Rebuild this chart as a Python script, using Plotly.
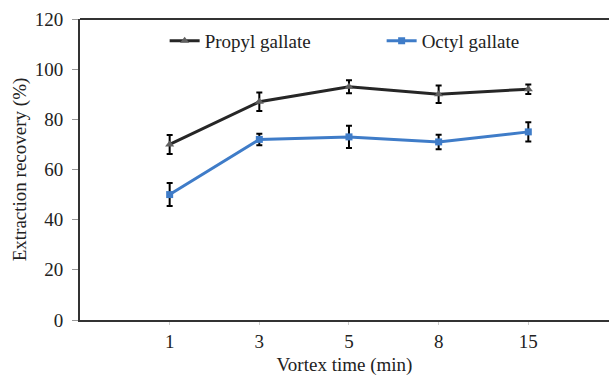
import plotly.graph_objects as go

categories = ["1", "3", "5", "8", "15"]
propyl = [70, 87, 93, 90, 92]
propyl_err = [3.8, 3.7, 2.6, 3.5, 1.9]
octyl = [50, 72, 73, 71, 75]
octyl_err = [4.6, 2.3, 4.4, 2.9, 3.8]

xpos = list(range(len(categories)))
font_family = "Liberation Serif"

fig = go.Figure()
fig.add_trace(go.Scatter(
    x=xpos, y=propyl, name="Propyl gallate", mode="lines+markers",
    line=dict(color="#262626", width=3),
    marker=dict(symbol="triangle-up", size=8, color="#606060"),
    error_y=dict(type="data", array=propyl_err, visible=True, color="#000000", thickness=2, width=3),
))
fig.add_trace(go.Scatter(
    x=xpos, y=octyl, name="Octyl gallate", mode="lines+markers",
    line=dict(color="#3f7cc8", width=3),
    marker=dict(symbol="square", size=7, color="#3f7cc8"),
    error_y=dict(type="data", array=octyl_err, visible=True, color="#000000", thickness=2, width=3),
))

fig.update_layout(
    width=609, height=376,
    margin=dict(l=80, r=0, t=19, b=56),
    paper_bgcolor="white", plot_bgcolor="white",
    font=dict(family=font_family, size=19, color="#222222"),
    showlegend=True,
    legend=dict(orientation="h", x=0.16, y=0.99, xanchor="left", yanchor="top",
                entrywidth=172, bgcolor="rgba(0,0,0,0)",
                font=dict(family=font_family, size=19, color="#222222")),
    xaxis=dict(range=[-1, 4.9], tickmode="array", tickvals=xpos, ticktext=categories,
               showgrid=False, zeroline=False, showline=True, linecolor="#333333", linewidth=2,
               ticks="outside", ticklen=3, tickcolor="#cccccc",
               tickfont=dict(family=font_family, size=19),
               title=dict(text="Vortex time (min)", standoff=9, font=dict(family=font_family, size=19))),
    yaxis=dict(range=[0, 120], tickmode="array", tickvals=[0, 20, 40, 60, 80, 100, 120],
               showgrid=False, zeroline=False, showline=True, linecolor="#333333", linewidth=2,
               ticks="outside", ticklen=6, tickcolor="#999999", ticklabelstandoff=5,
               tickfont=dict(family=font_family, size=19),
               title=dict(text="Extraction recovery (%)", standoff=3, font=dict(family=font_family, size=19))),
    shapes=[dict(type="line", xref="paper", yref="paper", x0=0, x1=1, y0=1, y1=1,
                 line=dict(color="#333333", width=2))],
)

fig.write_html("out.html")
